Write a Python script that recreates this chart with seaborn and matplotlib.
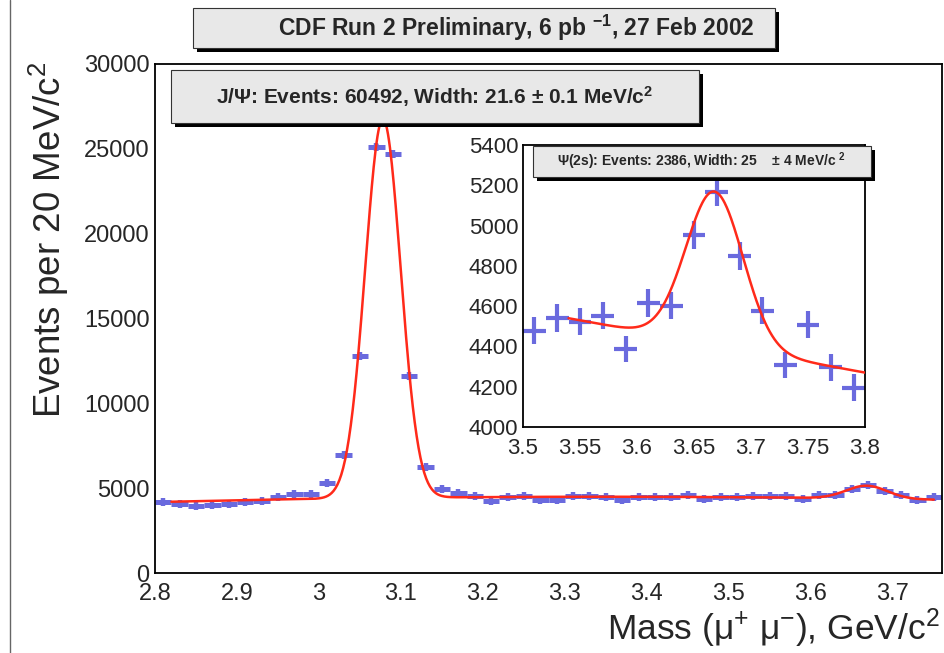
import numpy as np
import pandas as pd
import seaborn as sns
import matplotlib
matplotlib.use("Agg")
import matplotlib.pyplot as plt
from matplotlib.patches import Rectangle
from matplotlib.lines import Line2D
from matplotlib.ticker import MultipleLocator, FuncFormatter

# ---- dimuon mass histogram (20 MeV bins, bin centres in GeV/c^2) ----
mass = [2.81, 2.83, 2.85, 2.87, 2.89, 2.91, 2.93, 2.95, 2.97, 2.99,
        3.01, 3.03, 3.05, 3.07, 3.09, 3.11, 3.13, 3.15, 3.17, 3.19,
        3.21, 3.23, 3.25, 3.27, 3.29, 3.31, 3.33, 3.35, 3.37, 3.39,
        3.41, 3.43, 3.45, 3.47, 3.49, 3.51, 3.53, 3.55, 3.57, 3.59,
        3.61, 3.63, 3.65, 3.67, 3.69, 3.71, 3.73, 3.75, 3.77, 3.79]
counts = [4160, 4060, 3960, 4020, 4060, 4170, 4230, 4490, 4630, 4630,
          5310, 6940, 12780, 25110, 24680, 11600, 6250, 4980, 4690, 4530,
          4250, 4450, 4530, 4310, 4330, 4530, 4530, 4450, 4330, 4490,
          4450, 4450, 4570, 4390, 4490, 4478, 4541, 4523, 4553, 4387,
          4615, 4603, 4952, 5168, 4849, 4578, 4309, 4507, 4296, 4196]
bin_width = 0.02

# ---- fit results ----
jpsi_events, jpsi_mass, jpsi_width = 60492, 3.078, 0.0216
psi2s_events, psi2s_mass, psi2s_width = 2386, 3.668, 0.025
# quadratic background of the full-range fit, expanded around 3.28 GeV
bkg_ref, bkg_coef = 3.28, [4490.0, 140.0, -1063.0]
# linear background of the psi(2S) window fit
win_ref, win_level, win_slope = 3.54, 4540.0, -1038.0

main_fit_range = (2.82, 3.75)
inset_fit_range = (3.54, 3.80)

df = pd.DataFrame({"mass": mass, "counts": counts})
df["err"] = np.sqrt(df["counts"])


def gauss(x, events, mu, sigma):
    amp = events * bin_width / (sigma * np.sqrt(2 * np.pi))
    return amp * np.exp(-0.5 * ((x - mu) / sigma) ** 2)


def full_model(x):
    t = x - bkg_ref
    bkg = bkg_coef[0] + bkg_coef[1] * t + bkg_coef[2] * t ** 2
    return bkg + gauss(x, jpsi_events, jpsi_mass, jpsi_width) + \
        gauss(x, psi2s_events, psi2s_mass, psi2s_width)


def window_model(x):
    return win_level + win_slope * (x - win_ref) + \
        gauss(x, psi2s_events, psi2s_mass, psi2s_width)


sns.set_theme(style="white")
plt.rcParams["font.family"] = ["Liberation Sans", "DejaVu Sans"]
plt.rcParams["mathtext.fontset"] = "custom"
plt.rcParams["mathtext.rm"] = "Liberation Sans"
plt.rcParams["mathtext.it"] = "Liberation Sans:italic"
plt.rcParams["mathtext.bf"] = "Liberation Sans:bold"

W, H = 945, 653
fig = plt.figure(figsize=(W / 100, H / 100), dpi=100, facecolor="white")

blue = "#6a6ade"
red = "#ff2a1a"
fmt_g = FuncFormatter(lambda v, p: f"{v:g}")


def px_axes(x0, y0, x1, y1, **kw):
    return fig.add_axes([x0 / W, 1 - y1 / H, (x1 - x0) / W, (y1 - y0) / H], **kw)


def style_axes(ax, major_len, minor_len, label_size, xpad, ypad):
    for s in ax.spines.values():
        s.set_linewidth(1.3)
        s.set_color("black")
    ax.tick_params(which="both", direction="in", top=False, right=False,
                   color="black", width=1.0)
    ax.tick_params(which="major", length=major_len, labelsize=label_size)
    ax.tick_params(which="minor", length=minor_len)
    ax.tick_params(axis="x", pad=xpad)
    ax.tick_params(axis="y", pad=ypad)
    ax.xaxis.set_major_formatter(fmt_g)
    ax.yaxis.set_major_formatter(fmt_g)
    ax.set_xlabel("")
    ax.set_ylabel("")


# ---- main panel ----
ax = px_axes(155, 64, 942, 573)
ax.errorbar(df["mass"], df["counts"], xerr=bin_width / 2, yerr=df["err"],
            fmt="|", color=blue, markersize=5.5, markeredgewidth=3.2,
            ecolor=blue, elinewidth=3.6, capsize=0, zorder=2)
xf = np.linspace(*main_fit_range, 800)
sns.lineplot(x=xf, y=full_model(xf), ax=ax, color=red, linewidth=1.8,
             sort=False, estimator=None, zorder=3)
ax.set_xlim(2.8, 3.76)
ax.set_ylim(0, 30000)
ax.xaxis.set_major_locator(MultipleLocator(0.1))
ax.xaxis.set_minor_locator(MultipleLocator(0.05))
ax.yaxis.set_major_locator(MultipleLocator(5000))
ax.yaxis.set_minor_locator(MultipleLocator(1000))
style_axes(ax, 13, 6.5, 17, 7, 4)

# ---- psi(2S) zoom panel ----
ax2 = px_axes(523, 145, 865, 427)
ax2.set_zorder(5)
win = df[(df["mass"] > 3.5) & (df["mass"] < 3.8)]
ax2.errorbar(win["mass"], win["counts"], xerr=bin_width / 2, yerr=win["err"],
             fmt="none", ecolor=blue, elinewidth=3.0, capsize=0, zorder=2)
xw = np.linspace(*inset_fit_range, 400)
sns.lineplot(x=xw, y=window_model(xw), ax=ax2, color=red, linewidth=1.8,
             sort=False, estimator=None, zorder=3)
ax2.set_xlim(3.5, 3.8)
ax2.set_ylim(4000, 5400)
ax2.xaxis.set_major_locator(MultipleLocator(0.05))
ax2.xaxis.set_minor_locator(MultipleLocator(0.01))
ax2.yaxis.set_major_locator(MultipleLocator(200))
ax2.yaxis.set_minor_locator(MultipleLocator(50))
style_axes(ax2, 9, 5, 16, 8, 3.5)

# ---- axis titles ----
fig.text(49 / W, 1 - 62 / H, "Events per 20 MeV/c$^{2}$", rotation=90,
         ha="center", va="top", fontsize=26.5)
fig.text(940 / W, 1 - 628 / H, "Mass (μ$^{+}$ μ$^{-}$), GeV/c$^{2}$",
         ha="right", va="center", fontsize=25.5)


# ---- text panels with drop shadow ----
def pave(x0, y0, x1, y1, text, size, z, text_x=None):
    fig.add_artist(Rectangle(((x0 + 4) / W, 1 - (y1 + 4) / H), (x1 - x0) / W,
                             (y1 - y0) / H, transform=fig.transFigure,
                             facecolor="black", edgecolor="none", zorder=z))
    fig.add_artist(Rectangle((x0 / W, 1 - y1 / H), (x1 - x0) / W,
                             (y1 - y0) / H, transform=fig.transFigure,
                             facecolor="#e8e8e8", edgecolor="#333333",
                             linewidth=0.8, zorder=z + 1))
    if text_x is None:
        fig.text((x0 + x1) / 2 / W, 1 - (y0 + y1) / 2 / H, text, ha="center",
                 va="center", fontsize=size, fontweight="bold", zorder=z + 2)
    else:
        fig.text(text_x / W, 1 - (y0 + y1) / 2 / H, text, ha="left",
                 va="center", fontsize=size, fontweight="bold", zorder=z + 2)


pave(193, 8, 775, 48,
     r"CDF Run 2 Preliminary, 6 pb $^{\mathbf{-1}}$, 27 Feb 2002", 16.5, 10,
     text_x=278)
pave(171, 70, 699, 123,
     r"J/Ψ: Events: 60492, Width: 21.6 ± 0.1 MeV/c$^{\mathbf{2}}$", 15, 10)
pave(533, 146, 871, 177,
     r"Ψ(2s): Events: 2386, Width: 25    ± 4 MeV/c $^{\mathbf{2}}$", 10, 20)

# canvas edge on the left
fig.add_artist(Line2D([10 / W, 10 / W], [0, 1], transform=fig.transFigure,
                      color="#666666", linewidth=1.0))

fig.savefig("out.png", dpi=100, facecolor="white")
